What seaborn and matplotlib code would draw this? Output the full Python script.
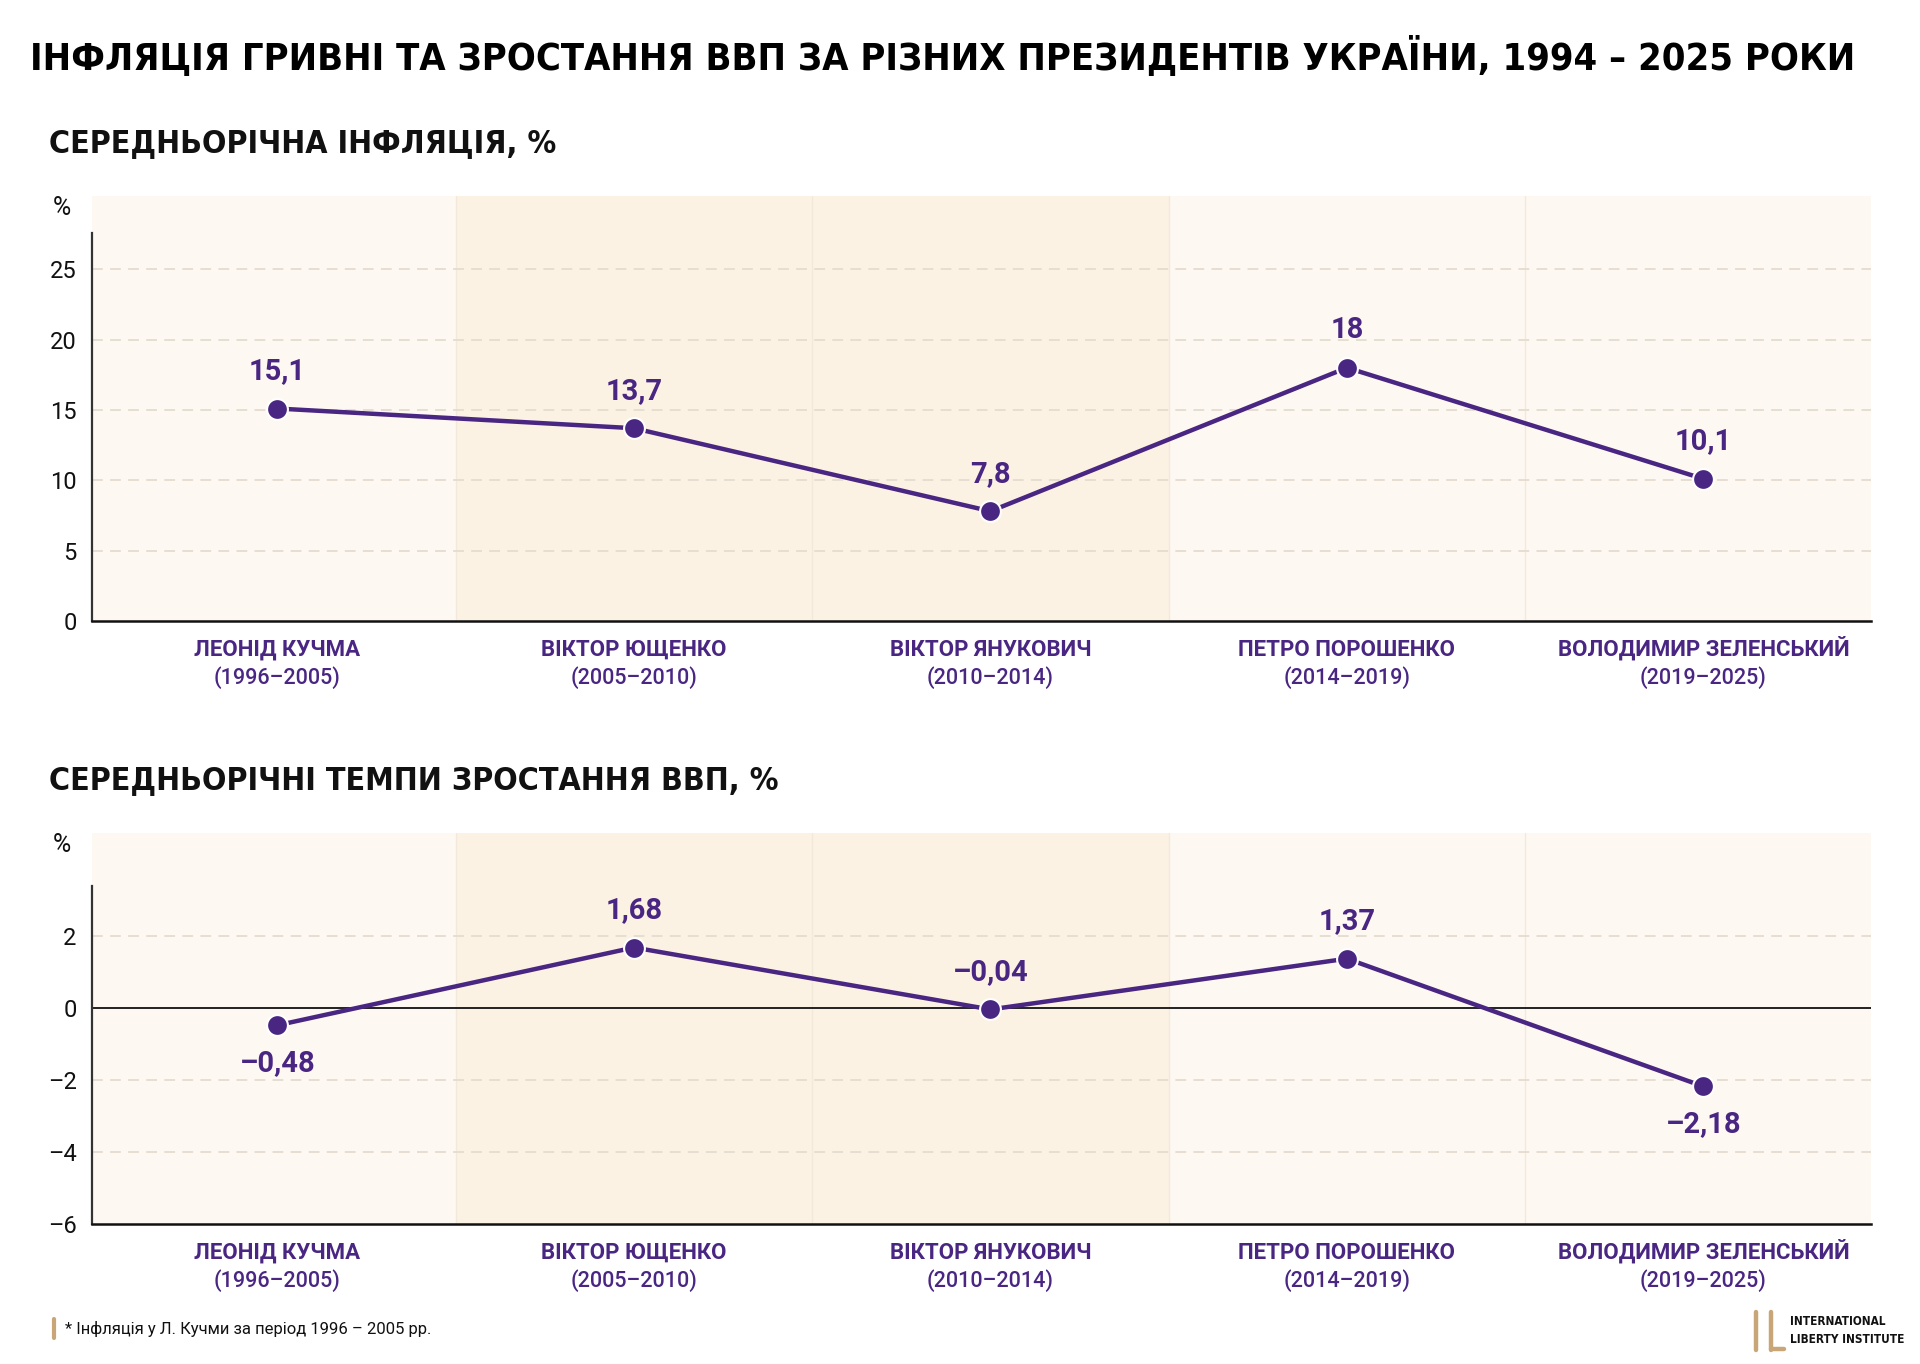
import numpy as np
import pandas as pd
import seaborn as sns
import matplotlib.pyplot as plt
from matplotlib.lines import Line2D

# data
presidents = ["ЛЕОНІД КУЧМА", "ВІКТОР ЮЩЕНКО", "ВІКТОР ЯНУКОВИЧ", "ПЕТРО ПОРОШЕНКО", "ВОЛОДИМИР ЗЕЛЕНСЬКИЙ"]
terms = ["(1996–2005)", "(2005–2010)", "(2010–2014)", "(2014–2019)", "(2019–2025)"]
inflation = [15.1, 13.7, 7.8, 18.0, 10.1]
gdp_growth = [-0.48, 1.68, -0.04, 1.37, -2.18]
gdp_label_below = [True, False, False, False, True]

infl_ticks = [0, 5, 10, 15, 20, 25]
gdp_ticks = [-6, -4, -2, 0, 2]

PURPLE = "#4A2683"
GRID = "#E4DCCF"
BAND_LIGHT = "#FDF9F2"
BAND_DARK = "#FBF2E4"
TAN = "#C8A678"

sns.set_theme(style="white")
plt.rcParams["font.family"] = ["Roboto", "DejaVu Sans"]
COND = ["DejaVu Sans"]

df = pd.DataFrame({"president": presidents, "term": terms,
                   "pos": np.arange(len(presidents)),
                   "inflation": inflation, "gdp": gdp_growth})


def fmt(v):
    s = f"{v:.2f}".rstrip("0").rstrip(".") if abs(v) < 5 else f"{v:.1f}".rstrip("0").rstrip(".")
    return s.replace(".", ",").replace("-", "–")


def style_panel(ax, col, ylim, ticks, spine_top, label_below=None, zero_line=False):
    n = len(df)
    ax.set_facecolor(BAND_LIGHT)
    shades = [BAND_LIGHT, BAND_DARK, BAND_DARK, BAND_LIGHT, BAND_LIGHT]
    for i in range(n):
        ax.axvspan(i - 0.5, i + 0.5, color=shades[i], zorder=0, lw=0)
        if i > 0:
            ax.axvline(i - 0.5, color="#F3E9DA", lw=1, zorder=0.5)
    for t in ticks:
        if t != ylim[0] and not (zero_line and t == 0):
            ax.axhline(t, color=GRID, lw=1.3, ls=(0, (6, 4)), zorder=1)
    if zero_line:
        ax.axhline(0, color="#222222", lw=1.4, zorder=1.5)

    sns.lineplot(data=df, x="pos", y=col, ax=ax, color=PURPLE, lw=3.2,
                 marker="o", markersize=15, markeredgecolor="white",
                 markeredgewidth=1.5, zorder=3)

    for i, v in enumerate(df[col]):
        below = label_below[i] if label_below is not None else False
        ax.annotate(fmt(v), (i, v), xytext=(0, -17 if below else 17),
                    textcoords="offset points", ha="center",
                    va="top" if below else "bottom",
                    fontsize=21, fontweight="bold", color=PURPLE, zorder=4)

    ax.set_xlim(-0.52, 4.47)
    ax.set_ylim(*ylim)
    ax.set_yticks(ticks)
    ax.set_yticklabels([str(t).replace("-", "–") for t in ticks], fontsize=17, color="#111111")
    ax.tick_params(axis="y", length=0, pad=11)
    ax.set_xticks([])
    ax.set_xlabel("")
    ax.set_ylabel("")
    for s in ["top", "right"]:
        ax.spines[s].set_visible(False)
    ax.spines["left"].set_color("#333333")
    ax.spines["left"].set_linewidth(1.6)
    ax.spines["left"].set_bounds(ylim[0], spine_top)
    ax.spines["bottom"].set_color("#111111")
    ax.spines["bottom"].set_linewidth(1.8)

    trans = ax.get_xaxis_transform()
    for i in range(n):
        ax.annotate(df["president"][i], (i, 0), xycoords=trans, xytext=(0, -25),
                    textcoords="offset points", ha="center", va="baseline",
                    fontsize=16, fontweight="bold", color=PURPLE)
        ax.annotate(df["term"][i], (i, 0), xycoords=trans, xytext=(0, -45.5),
                    textcoords="offset points", ha="center", va="baseline",
                    fontsize=15.5, fontweight="medium", color=PURPLE)
    ax.text(-0.017, 1.0, "%", transform=ax.transAxes, ha="center", va="top",
            fontsize=18, color="#111111")


fig = plt.figure(figsize=(19.2, 13.64), dpi=100)
fig.patch.set_facecolor("white")

ax1 = fig.add_axes([0.0479, 0.5447, 0.9266, 0.3116])
style_panel(ax1, "inflation", (0, 30.2), infl_ticks, 27.6)

ax2 = fig.add_axes([0.0479, 0.1026, 0.9266, 0.2867])
style_panel(ax2, "gdp", (-6, 4.86), gdp_ticks, 3.4, gdp_label_below, zero_line=True)

fig.text(0.491, 0.958, "ІНФЛЯЦІЯ ГРИВНІ ТА ЗРОСТАННЯ ВВП ЗА РІЗНИХ ПРЕЗИДЕНТІВ УКРАЇНИ, 1994 – 2025 РОКИ",
         ha="center", va="center", fontsize=27.3, fontweight="bold", family=COND,
         fontstretch="condensed", color="black")
fig.text(0.0255, 0.895, "СЕРЕДНЬОРІЧНА ІНФЛЯЦІЯ, %", ha="left", va="center",
         fontsize=23, fontweight="bold", family=COND, fontstretch="condensed", color="#111111")
fig.text(0.0255, 0.428, "СЕРЕДНЬОРІЧНІ ТЕМПИ ЗРОСТАННЯ ВВП, %", ha="left", va="center",
         fontsize=23, fontweight="bold", family=COND, fontstretch="condensed", color="#111111")

# footnote
fig.add_artist(Line2D([0.028, 0.028], [0.019, 0.033], color=TAN, lw=3))
fig.text(0.034, 0.026, "* Інфляція у Л. Кучми за період 1996 – 2005 рр.", ha="left", va="center",
         fontsize=12, color="#111111")

# logo
for x0 in (0.9145, 0.9225):
    fig.add_artist(Line2D([x0, x0], [0.010, 0.038], color=TAN, lw=3.2))
fig.add_artist(Line2D([0.9225, 0.929], [0.011, 0.011], color=TAN, lw=3.2))
fig.text(0.9325, 0.031, "INTERNATIONAL", ha="left", va="center", fontsize=8.5,
         fontweight="bold", family=COND, fontstretch="condensed", color="#111111")
fig.text(0.9325, 0.018, "LIBERTY INSTITUTE", ha="left", va="center", fontsize=8.5,
         fontweight="bold", family=COND, fontstretch="condensed", color="#111111")

fig.savefig("out.png", dpi=100, facecolor="white")
